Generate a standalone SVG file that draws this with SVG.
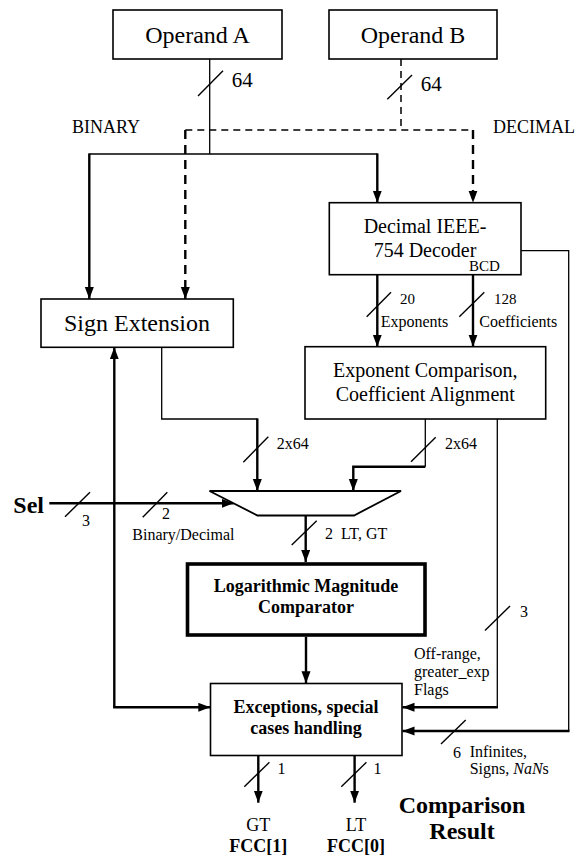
<svg xmlns="http://www.w3.org/2000/svg" width="577" height="861" viewBox="0 0 577 861">
<style>
text{font-family:"Liberation Serif","Times New Roman",serif;fill:#000}
.box{fill:#fff;stroke:#000;stroke-width:1.6}
.bold{font-weight:bold}
.c{text-anchor:middle}
.w{fill:none;stroke:#000;stroke-width:1.3}
.t{fill:none;stroke:#000;stroke-width:2.4}
.d{fill:none;stroke:#000;stroke-width:1.5;stroke-dasharray:7 5}
.dt{fill:none;stroke:#000;stroke-width:2.4;stroke-dasharray:9 6}
.s{stroke:#000;stroke-width:1.4}
.f24{font-size:24px}.f20{font-size:20px}.f18{font-size:18px}.f16{font-size:16px}.f15{font-size:15px}.f21{font-size:21px}
</style>
<defs>
<marker id="ah" markerUnits="userSpaceOnUse" markerWidth="13" markerHeight="10" refX="12" refY="4.5" orient="auto">
<path d="M0,0 L12,4.5 L0,9 z" fill="#000"/>
</marker>
</defs>

<g id="connectors">
<!-- Operand A -->
<path class="w" d="M209.7,59 V154"/>
<path class="w" d="M89.3,154 H377.3"/>
<path class="t" d="M89.3,153.4 V299" marker-end="url(#ah)"/>
<path class="t" d="M377.3,153.4 V202.7" marker-end="url(#ah)"/>
<!-- Operand B dashed -->
<path class="d" d="M401,59 V130"/>
<path class="d" d="M185.3,130 H473"/>
<path class="dt" d="M185.3,130 V299" marker-end="url(#ah)"/>
<path class="dt" d="M473,130 V202.7" marker-end="url(#ah)"/>
<!-- decoder to exponent -->
<path class="t" d="M377.3,274.7 V346.7" marker-end="url(#ah)"/>
<path class="t" d="M473,274.7 V346.7" marker-end="url(#ah)"/>
<!-- decoder right to exceptions -->
<path class="w" d="M521,250.7 H568.7 V731"/>
<path class="t" d="M569.5,731 H402.5" marker-end="url(#ah)"/>
<!-- sign ext to mux -->
<path class="w" d="M161.7,347.3 V419 H257.3"/>
<path class="t" d="M257.3,418.4 V491" marker-end="url(#ah)"/>
<!-- exponent to mux -->
<path class="w" d="M425.3,419 V466.7"/>
<path class="t" d="M425.3,466.7 H353.3 V491" marker-end="url(#ah)"/>
<!-- off-range flags -->
<path class="w" d="M497.3,419 V707.3"/>
<path class="t" d="M498,707.3 H402.5" marker-end="url(#ah)"/>
<!-- Sel -->
<path class="t" d="M49.3,503.3 H233.6" marker-end="url(#ah)"/>
<!-- left feedback line -->
<path class="t" d="M114.3,707.3 V347.3" marker-end="url(#ah)"/>
<path class="t" d="M113.1,707.3 H210.3" marker-end="url(#ah)"/>
<!-- mux to log -->
<path class="t" d="M305.7,515.5 V562" marker-end="url(#ah)"/>
<!-- log to exceptions -->
<path class="t" d="M306,636.7 V683.3" marker-end="url(#ah)"/>
<!-- outputs -->
<path class="t" d="M258.3,755.7 V802.7" marker-end="url(#ah)"/>
<path class="t" d="M354.6,755.7 V802.7" marker-end="url(#ah)"/>
<!-- bus slashes -->
<g class="s">
<line x1="198" y1="96" x2="223" y2="70.7"/>
<line x1="387.3" y1="99.3" x2="412" y2="75"/>
<line x1="366.7" y1="316.7" x2="391" y2="292.3"/>
<line x1="459.3" y1="316.7" x2="484.3" y2="292.3"/>
<line x1="243.3" y1="462.3" x2="268.3" y2="436.7"/>
<line x1="411" y1="461.7" x2="435.7" y2="437.3"/>
<line x1="65" y1="516.7" x2="90" y2="492.3"/>
<line x1="142.7" y1="517.3" x2="167.3" y2="492.3"/>
<line x1="291.7" y1="545" x2="316.7" y2="520.7"/>
<line x1="485" y1="630.5" x2="510" y2="606"/>
<line x1="441" y1="744" x2="465.7" y2="720"/>
<line x1="244.3" y1="786.7" x2="269.4" y2="762.3"/>
<line x1="341.3" y1="786.7" x2="366.4" y2="762.3"/>
</g>
</g>

<g id="operandA">
<rect class="box" x="113" y="10" width="169" height="49"/>
<text class="c f24" x="197.5" y="43">Operand A</text>
</g>
<g id="operandB">
<rect class="box" x="329" y="10" width="168" height="49"/>
<text class="c f24" x="413" y="43">Operand B</text>
</g>
<g id="decoder">
<rect class="box" x="329.3" y="202.7" width="191.7" height="72"/>
<text class="c f20" x="425" y="233">Decimal IEEE-</text>
<text class="c f20" x="425" y="257">754 Decoder</text>
</g>
<g id="signext">
<rect class="box" x="41" y="299" width="192.3" height="48.3"/>
<text class="c f24" x="137" y="331">Sign Extension</text>
</g>
<g id="exponent">
<rect class="box" x="305" y="346.7" width="240.7" height="72.3"/>
<text class="c f20" x="425.3" y="377">Exponent Comparison,</text>
<text class="c f20" x="425.3" y="401">Coefficient Alignment</text>
</g>
<g id="mux">
<polygon points="209.5,491 401,491 354,515.5 257.5,515.5" fill="#fff" stroke="#000" stroke-width="1.8"/>
</g>
<g id="logcomp">
<rect x="187.5" y="564" width="237.5" height="71" fill="#fff" stroke="#000" stroke-width="3.6"/>
<text class="c f18 bold" x="306" y="592">Logarithmic Magnitude</text>
<text class="c f18 bold" x="306" y="612.5">Comparator</text>
</g>
<g id="exceptions">
<rect class="box" x="210.5" y="683.5" width="191.5" height="72"/>
<text class="c f18 bold" x="306" y="712.7">Exceptions, special</text>
<text class="c f18 bold" x="306" y="733.5">cases handling</text>
</g>

<g id="labels">
<text class="f21" x="231.7" y="87">64</text>
<text class="f21" x="420.7" y="91">64</text>
<text class="f18" x="72" y="133">BINARY</text>
<text class="f18" x="493" y="133">DECIMAL</text>
<text class="f15" x="469" y="271">BCD</text>
<text class="f15" x="400" y="304">20</text>
<text class="f16" x="380.7" y="327">Exponents</text>
<text class="f15" x="494" y="304">128</text>
<text class="f16" x="479.3" y="327">Coefficients</text>
<text class="f16" x="276.7" y="449">2x64</text>
<text class="f16" x="445" y="449">2x64</text>
<text class="bold f24" x="13.3" y="512.7">Sel</text>
<text class="c f16" x="86" y="525.7">3</text>
<text class="c f16" x="166" y="519.3">2</text>
<text class="f16" x="132.3" y="540">Binary/Decimal</text>
<text class="f16" x="325" y="539.3">2</text>
<text class="f16" x="341" y="539.3">LT, GT</text>
<text class="f16" x="520" y="617.3">3</text>
<text class="f16" x="414" y="659.3">Off-range,</text>
<text class="f16" x="414" y="677">greater_exp</text>
<text class="f16" x="414" y="694.7">Flags</text>
<text class="f16" x="453" y="758.3">6</text>
<text class="f16" x="469.7" y="756.7">Infinites,</text>
<text class="f16" x="469.7" y="774">Signs, <tspan font-style="italic">NaN</tspan>s</text>
<text class="f16" x="277.5" y="774">1</text>
<text class="f16" x="373.5" y="774">1</text>
<text class="c f18" x="258.3" y="831">GT</text>
<text class="c f18 bold" x="258.3" y="852.3">FCC[1]</text>
<text class="c f18" x="356" y="831">LT</text>
<text class="c f18 bold" x="356" y="852.3">FCC[0]</text>
<text class="c f24 bold" x="462" y="812.7">Comparison</text>
<text class="c f24 bold" x="462" y="839">Result</text>
</g>
</svg>
